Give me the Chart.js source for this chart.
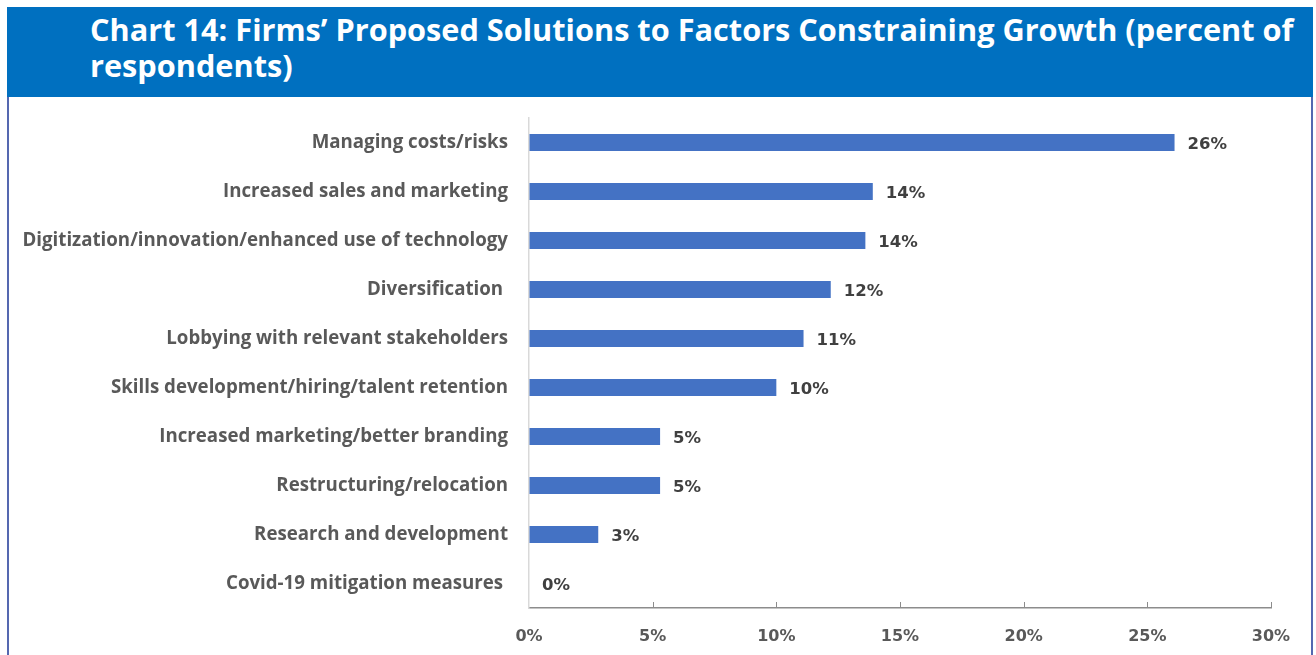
<!DOCTYPE html>
<html>
<head>
<meta charset="utf-8">
<script src="https://cdn.jsdelivr.net/npm/chart.js@4.4.1/dist/chart.umd.min.js"></script>
<style>
  html, body { margin: 0; padding: 0; background: #ffffff; }
  #page { position: relative; width: 1316px; height: 655px; overflow: hidden; }
  #header {
    position: absolute; left: 7px; top: 7px; width: 1306px; height: 90px;
    background: #0070C0; color: #ffffff; box-sizing: border-box;
    padding: 4px 0 0 83px;
    font-family: "Open Sans", sans-serif; font-weight: 700; font-size: 30.7px; line-height: 36px;
    white-space: nowrap;
  }
  #panel {
    position: absolute; left: 7px; top: 97px; width: 1306px; height: 570px;
    box-sizing: border-box; border-left: 2px solid #5568B0; border-right: 2px solid #5568B0;
  }
  #wrap { position: absolute; left: 0; top: 97px; width: 1316px; height: 558px; }
</style>
</head>
<body>
<div id="page">
  <div id="header">Chart 14: Firms’ Proposed Solutions to Factors Constraining Growth (percent of<br>respondents)</div>
  <div id="panel"></div>
  <div id="wrap"><canvas id="chart" width="1316" height="558"></canvas></div>
</div>
<script>
// Proposed solutions, top to bottom
const categories = [
  "Managing costs/risks",
  "Increased sales and marketing",
  "Digitization/innovation/enhanced use of technology",
  "Diversification ",
  "Lobbying with relevant stakeholders",
  "Skills development/hiring/talent retention",
  "Increased marketing/better branding",
  "Restructuring/relocation",
  "Research and development",
  "Covid-19 mitigation measures "
];
// Share of respondents, percent
const shares = [26.1, 13.9, 13.6, 12.2, 11.1, 10.0, 5.3, 5.3, 2.8, 0];
const xTicks = [0, 5, 10, 15, 20, 25, 30];

const BAR = "#4472C4";
const LABEL = "#595959";
const VALUE = "#404040";
const CAT_FONT = "'Open Sans', sans-serif";
const NUM_FONT = "'DejaVu Sans', Verdana, sans-serif";

// Value labels just past the end of each bar
const valueLabels = {
  id: "valueLabels",
  afterDatasetsDraw(chart) {
    const ctx = chart.ctx;
    const meta = chart.getDatasetMeta(0);
    ctx.save();
    ctx.font = "bold 16.5px " + NUM_FONT;
    ctx.fillStyle = VALUE;
    ctx.textAlign = "left";
    ctx.textBaseline = "middle";
    meta.data.forEach((bar, i) => {
      const v = chart.data.datasets[0].data[i];
      ctx.fillText(Math.round(v) + "%", bar.x + 13, bar.y + 2);
    });
    ctx.restore();
  }
};

// Short tick marks pointing up from the value axis
const innerTicks = {
  id: "innerTicks",
  afterDraw(chart) {
    const x = chart.scales.x;
    const ctx = chart.ctx;
    const y0 = x.top;
    ctx.save();
    ctx.strokeStyle = "#8C8C8C";
    ctx.lineWidth = 1;
    xTicks.forEach(t => {
      if (t === 0) return;
      const px = Math.round(x.getPixelForValue(t)) + 0.5;
      ctx.beginPath();
      ctx.moveTo(px, y0);
      ctx.lineTo(px, y0 - 6);
      ctx.stroke();
    });
    ctx.restore();
  }
};

new Chart(document.getElementById("chart"), {
  type: "bar",
  data: {
    labels: categories,
    datasets: [{
      data: shares,
      backgroundColor: BAR,
      borderWidth: 0,
      barPercentage: 0.35,
      categoryPercentage: 1.0
    }]
  },
  options: {
    indexAxis: "y",
    responsive: false,
    animation: false,
    layout: { padding: { left: 0, right: 45, top: 21, bottom: 0 } },
    plugins: { legend: { display: false }, tooltip: { enabled: false } },
    scales: {
      x: {
        min: 0, max: 30,
        afterBuildTicks(scale) { scale.ticks = xTicks.map(v => ({ value: v })); },
        afterFit(scale) { scale.height = 47; },
        grid: { display: true, drawOnChartArea: false, drawTicks: false },
        border: { display: true, color: "#8C8C8C", width: 1.5 },
        ticks: {
          padding: 19,
          color: LABEL,
          font: { family: NUM_FONT, size: 16, weight: "bold" },
          callback: v => v + "%"
        }
      },
      y: {
        afterFit(scale) {
          scale.width = 529;
          scale.paddingTop = 0;
          scale.paddingBottom = 0;
        },
        grid: { display: false, drawTicks: false },
        border: { display: true, color: "#D9D9D9", width: 1.5 },
        ticks: {
          padding: 21,
          color: LABEL,
          font: { family: CAT_FONT, size: 18.7, weight: "bold" }
        }
      }
    }
  },
  plugins: [valueLabels, innerTicks]
});
</script>
</body>
</html>
